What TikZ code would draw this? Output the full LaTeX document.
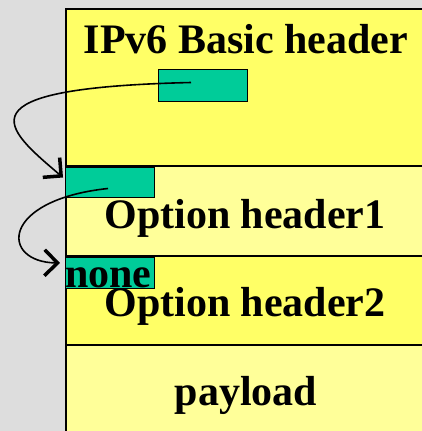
\documentclass[tikz,border=0pt]{standalone}
\usepackage{fontspec}
\setmainfont{Liberation Serif}
\usetikzlibrary{arrows.meta}
\definecolor{hdryellow}{HTML}{FFFF66}
\definecolor{optyellow}{HTML}{FFFF99}
\definecolor{ptrgreen}{HTML}{00CC99}
\definecolor{panelgray}{HTML}{DDDDDD}

\begin{document}
\begin{tikzpicture}[x=1pt,y=-1pt,
  band/.style={draw,line width=1.5pt,anchor=north west,minimum width=380pt,inner sep=0pt},
  ptr/.style={draw,fill=ptrgreen,line width=1pt,anchor=north west,minimum width=89pt,inner sep=0pt},
  title/.style={anchor=base,inner sep=0pt,font=\fontsize{42}{42}\selectfont\bfseries},
  link/.style={line width=1.6pt,-{Straight Barb[length=13pt,width=26pt,line width=3.5pt]}}]
\fill[panelgray] (0,0) rectangle (422,431);
\clip (0,0) rectangle (422,431);
% header chain
\node[band,fill=hdryellow,minimum height=157pt] (basic) at (65,8) {};
\node[band,fill=optyellow,minimum height=90pt] (opt1) at (65,165) {};
\node[band,fill=hdryellow,minimum height=89pt] (opt2) at (65,255) {};
\node[band,fill=optyellow,minimum height=100pt] (load) at (65,344) {};
% next-header fields
\node[ptr,minimum height=32pt] (nh0) at (158,69) {};
\node[ptr,minimum height=30pt] (nh1) at (65,167) {};
\node[ptr,minimum height=31pt] (nh2) at (65,257) {};
\node[title] at (246,53) {IPv6 Basic header};
\node[title] at (245,228) {Option header1};
\node[title] at (245,316) {Option header2};
\node[title] at (246,405) {payload};
\node[title,anchor=base west] (none) at (65,287) {none};
\draw[link] ([shift={(-12,-3)}]nh0.center) .. controls (-45,88) and (5,128) .. ([shift={(-2,-5)}]nh1.west);
\draw[link] ([shift={(-2,6)}]nh1.center) .. controls (0,200) and (0,262) .. ([shift={(-5,-10)}]nh2.west);
\end{tikzpicture}
\end{document}
